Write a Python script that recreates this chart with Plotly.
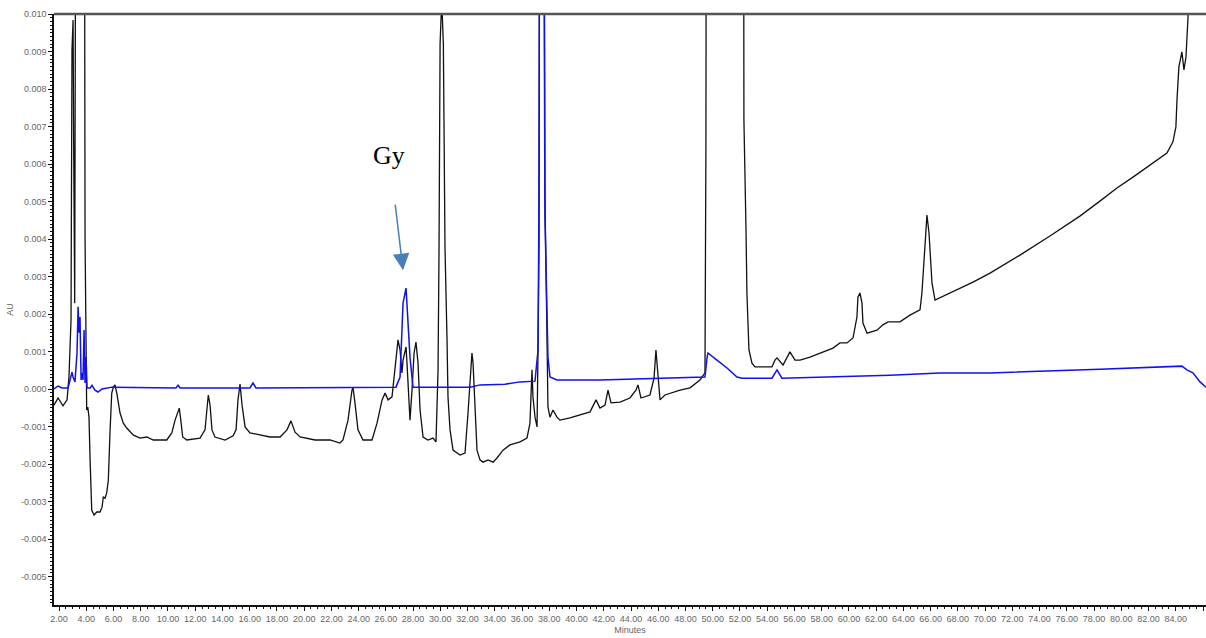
import plotly.graph_objects as go

# Black chromatogram (minutes, AU)
black_t = [1.63, 1.93, 2.29, 2.59, 2.73, 2.88, 2.95, 3.03, 3.07, 3.15, 3.25, 3.40, 3.62, 3.80, 3.91, 3.96,
           4.03, 4.11, 4.20, 4.28, 4.33, 4.40, 4.57, 4.77, 5.01, 5.16, 5.25, 5.38, 5.50, 5.62, 5.74, 5.87,
           5.99, 6.11, 6.24, 6.48, 6.72, 6.97, 7.46, 7.95, 8.44, 8.92, 9.91, 10.28, 10.52, 10.83, 10.94,
           11.08, 11.38, 12.35, 12.72, 12.84, 12.96, 13.09, 13.23, 13.45, 14.19, 14.78, 15.00, 15.14, 15.29,
           15.44, 15.66, 16.02, 16.76, 17.49, 18.23, 18.74, 19.03, 19.33, 19.70, 20.80, 21.90, 22.63, 22.85,
           23.22, 23.51, 23.59, 23.73, 23.95, 24.32, 24.98, 25.35, 25.72, 25.94, 26.16, 26.45, 26.67, 26.89,
           27.04, 27.18, 27.26, 27.48, 27.55, 27.77, 27.92, 28.07, 28.21, 28.36, 28.51, 28.73, 29.09, 29.46,
           29.68, 29.83, 29.90, 29.98, 30.06, 30.14, 30.22, 30.34, 30.49, 30.56, 30.71, 30.93, 31.44, 31.81, 32.03,
           32.25, 32.32, 32.40, 32.54, 32.69, 32.91, 33.13, 33.50, 33.87, 34.16, 34.60, 35.11, 35.85, 36.36,
           36.58, 36.73, 36.80, 36.95, 37.10, 37.17, 37.24, 37.32, 37.45, 37.61, 37.68, 37.83, 37.90, 38.05,
           38.27, 38.56, 38.78, 39.52, 40.25, 40.99, 41.43, 41.72, 42.09, 42.31, 42.53, 43.19, 43.92, 44.36,
           44.51, 44.73, 45.39, 45.69, 45.83, 45.98, 46.13, 46.49, 47.60, 48.33, 49.06, 49.43, 49.50, 49.58,
           50.90, 52.22, 52.29, 52.44, 52.51, 52.66, 52.88, 53.10, 54.35, 54.57, 54.72, 55.16, 55.67, 56.04,
           56.41, 57.14, 58.09, 58.83, 59.34, 59.86, 60.30, 60.59, 60.66, 60.81, 60.96, 61.03, 61.33, 62.06,
           62.50, 62.87, 63.75, 64.48, 65.22, 65.36, 65.58, 65.73, 65.88, 66.10, 66.32, 66.68, 67.93, 69.11,
           70.36, 72.56, 74.76, 76.96, 78.43, 79.68, 80.86, 82.10, 83.35, 83.79, 84.01, 84.09, 84.23, 84.45,
           84.60, 84.75, 84.82, 84.89, 85.19, 86.22]
black_v = [-0.00043, -0.00024, -0.00045, -0.00029, 0.00032, 0.00184, 0.00904, 0.00984, 0.00683, 0.00229,
           0.018, 0.030, 0.025, 0.030, 0.00405, 0.00123,
           -0.00056, -0.00048, -0.00075, -0.00189, -0.00277, -0.00323, -0.00336, -0.00328, -0.00328, -0.00315,
           -0.00288, -0.00291, -0.00277, -0.00243, -0.00117, -0.00011,
           0.00005, 0.00011, -0.00011, -0.00064, -0.00091, -0.00104, -0.00123, -0.00131, -0.00128, -0.00136,
           -0.00136, -0.00117, -0.00083, -0.00051, -0.00083,
           -0.00128, -0.00136, -0.00131, -0.00109, -0.00056, -0.00016, -0.00043, -0.00109, -0.00128, -0.00136,
           -0.00125, -0.00109, -0.00029, 0.00013,
           -0.00043, -0.00101, -0.00117, -0.00123, -0.00128, -0.00128, -0.00109, -0.00085, -0.00115, -0.00128,
           -0.00136, -0.00136, -0.00144, -0.00136,
           -0.00083, -0.00003, 0.00003, -0.00037, -0.00109, -0.00136, -0.00136, -0.00091, -0.00029, -0.00011,
           -0.00029, -0.00021, 0.00051, 0.00131,
           0.00104, 0.00043, 0.00077, 0.00112, 0.00069, -0.00083, -0.00003, 0.00096, 0.00125, 0.00069,
           -0.00056, -0.00128, -0.00136, -0.00131,
           -0.00141, 0.00051, 0.00363, 0.0092, 0.00998, 0.00998, 0.0092, 0.00379, 0.00131, -0.00021, -0.00109,
           -0.00163, -0.00176, -0.00171, -0.00064,
           0.00069, 0.00096, 0.00069, -0.00064, -0.00163, -0.00189, -0.00195, -0.00189, -0.00195, -0.00184,
           -0.00163, -0.00149, -0.00141, -0.00131,
           -0.00091, 0.00051, -0.00021, -0.00075, -0.00101, 0.00104, 0.00379, 0.020, 0.020, 0.015, 0.00512,
           0.00139, -0.00048, -0.00075,
           -0.00056, -0.00075, -0.00083, -0.00077, -0.00069, -0.00061, -0.00029, -0.00051, -0.00043, -0.00003,
           -0.00037, -0.00035, -0.00024, -0.00003,
           0.00011, -0.00024, -0.00016, 0.00029, 0.00104, 0.00037, -0.00029, -0.00016, -0.00003, 0.00003,
           0.00024, 0.00043, 0.00645, 0.030,
           0.050, 0.030, 0.00717, 0.00432, 0.00256, 0.00104, 0.00069, 0.00059, 0.00059, 0.00077, 0.00083,
           0.00064, 0.00099, 0.00077,
           0.00077, 0.00085, 0.00099, 0.00109, 0.00123, 0.00123, 0.00136, 0.00192, 0.00245, 0.00256, 0.00229,
           0.00176, 0.00149, 0.00157,
           0.00171, 0.00179, 0.00179, 0.00197, 0.00211, 0.00256, 0.00379, 0.00464, 0.00416, 0.00283, 0.00237,
           0.00243, 0.00264, 0.00285,
           0.00309, 0.00357, 0.00408, 0.00461, 0.00501, 0.00536, 0.00565, 0.00597, 0.00629, 0.00659, 0.00699,
           0.00771, 0.00859, 0.00899,
           0.00851, 0.00885, 0.00949, 0.00997, 0.012, 0.016]

# Blue chromatogram (minutes, AU)
blue_t = [1.63, 1.93, 2.22, 2.66, 2.81, 2.95, 3.03, 3.17, 3.32, 3.40, 3.47, 3.54, 3.62, 3.69, 3.76, 3.84,
          3.91, 3.98, 4.06, 4.28, 4.42, 4.64, 4.86, 5.16, 5.89, 10.59, 10.74, 10.89, 16.02, 16.24, 16.46,
          26.30, 26.74, 27.04, 27.18, 27.26, 27.48, 27.62, 27.77, 27.99, 32.18, 32.91, 34.74, 35.85, 36.95,
          37.17, 37.24, 37.32, 37.54, 37.68, 37.83, 37.90, 38.05, 38.56, 41.72, 45.39, 49.43, 49.58, 49.65,
          50.31, 51.05, 51.78, 52.15, 54.35, 54.72, 55.08, 58.09, 63.01, 66.68, 70.36, 78.43, 80.86, 83.72,
          84.45, 84.82, 85.26, 85.78, 86.22]
blue_v = [0.0, 0.00008, 0.00003, 0.00003, 0.00024, 0.00045, 0.00032, 0.00019, 0.00096, 0.00219, 0.0015,
          0.00192, 0.00024, 0.00043, 0.00024, 0.00157,
          0.00016, 0.00085, 0.00003, 0.00003, 0.0001, -0.00003, -0.00008, 0.0, 0.00005, 0.00003, 0.0001,
          0.00003, 0.00003, 0.00016, 0.00003,
          0.00003, 0.00005, 0.00032, 0.00157, 0.00229, 0.00269, 0.00192, 0.00085, 0.00005, 0.00005, 0.00011,
          0.00013, 0.00019, 0.00021,
          0.00104, 0.00496, 0.020, 0.020, 0.00459, 0.00237, 0.00085, 0.00032, 0.00024, 0.00024, 0.00027,
          0.00032, 0.00083, 0.00096,
          0.00077, 0.00056, 0.00032, 0.00029, 0.00029, 0.00051, 0.00029, 0.00032, 0.00037, 0.00043, 0.00043,
          0.00053, 0.00056, 0.00059,
          0.00061, 0.00051, 0.00043, 0.00019, 0.00005]

x_ticks = [2 * i for i in range(1, 44)]
x_labels = ["%.2f" % v for v in x_ticks]
y_ticks = [round(-0.005 + 0.001 * i, 3) for i in range(16)]
y_labels = ["%.3f" % v for v in y_ticks]

fig = go.Figure()
fig.add_trace(go.Scatter(x=black_t, y=black_v, mode="lines",
                         line=dict(color="#111111", width=1.3), showlegend=False))
fig.add_trace(go.Scatter(x=blue_t, y=blue_v, mode="lines",
                         line=dict(color="#1010F0", width=1.5), showlegend=False))

tickfont = dict(family="Liberation Sans, Arial, sans-serif", size=9, color="#666666")

fig.update_layout(
    width=1206, height=638,
    margin=dict(l=54, r=0, t=14, b=33),
    paper_bgcolor="white", plot_bgcolor="white",
    xaxis=dict(range=[1.63, 86.22], tickvals=x_ticks, ticktext=x_labels,
               showgrid=False, zeroline=False, showline=True, linecolor="#111111", linewidth=1.5,
               ticks="outside", ticklen=4, tickcolor="#111111", tickwidth=1, tickfont=tickfont,
               minor=dict(dtick=0.5, tick0=0, ticks="outside", ticklen=2, tickcolor="#111111"),
               title=dict(text="Minutes", font=dict(family="Liberation Sans, Arial", size=9, color="#666666"),
                          standoff=4)),
    yaxis=dict(range=[-0.00576, 0.0100], tickvals=y_ticks, ticktext=y_labels,
               showgrid=False, zeroline=False, showline=True, linecolor="#111111", linewidth=1.5,
               ticks="outside", ticklen=4, tickcolor="#111111", tickwidth=1, tickfont=tickfont,
               minor=dict(dtick=0.0001, tick0=0, ticks="outside", ticklen=2, tickcolor="#111111"),
               title=dict(text="AU", font=dict(family="Liberation Sans, Arial", size=9, color="#666666"),
                          standoff=6)),
    shapes=[dict(type="line", xref="paper", yref="paper", x0=0, x1=1, y0=1, y1=1,
                 line=dict(color="#555555", width=2.5))],
    annotations=[
        dict(x=26.23, y=0.00624, xref="x", yref="y", text="Gy", showarrow=False,
             font=dict(family="Liberation Serif, Times New Roman, serif", size=26, color="#000000")),
        dict(x=27.26, y=0.00317, xref="x", yref="y", text="", showarrow=True,
             ax=-8, ay=-67, arrowhead=2, arrowsize=2.2, arrowwidth=1.5, arrowcolor="#4A7EBB"),
    ],
)

fig.write_html("out.html")
